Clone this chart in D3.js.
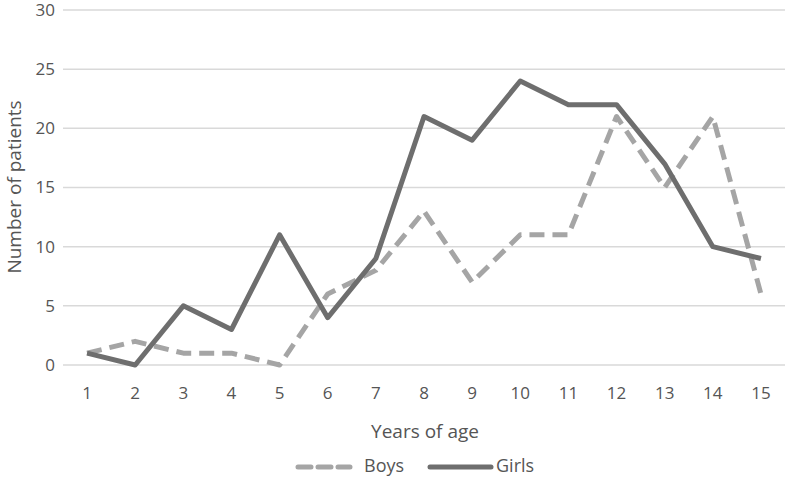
<!DOCTYPE html>
<html><head><meta charset="utf-8">
<script src="https://cdn.jsdelivr.net/npm/d3@7"></script>
<style>body{margin:0;background:#fff}svg{display:block}text{font-family:"Open Sans","Noto Sans",sans-serif;fill:#555}</style>
</head><body><svg id="c" width="787" height="480"></svg>
<script>
const ages = ["1","2","3","4","5","6","7","8","9","10","11","12","13","14","15"];
const boys = [1,2,1,1,0,6,8,13,7,11,11,21,15,21,6];
const girls = [1,0,5,3,11,4,9,21,19,24,22,22,17,10,9];
const yTicks = [0,5,10,15,20,25,30];
const seriesNames = ["Boys","Girls"];

const svg = d3.select("#c");
const m = {l:63, r:785, t:10, b:365};
const x = d3.scaleBand().domain(ages).range([m.l, m.r]);
const y = d3.scaleLinear().domain([0,30]).range([m.b, m.t]);
const fs = "17px";

svg.append("g").selectAll("line").data(yTicks).join("line")
  .attr("x1", m.l).attr("x2", m.r).attr("y1", d=>y(d)).attr("y2", d=>y(d))
  .attr("stroke", "#d9d9d9").attr("stroke-width", 1.5);

svg.append("g").selectAll("text").data(yTicks).join("text")
  .attr("x", 55).attr("y", d=>y(d)).attr("dy","0.35em").attr("text-anchor","end")
  .style("font-size", fs).text(d=>d);

svg.append("g").selectAll("text").data(ages).join("text")
  .attr("x", d=>x(d)+x.bandwidth()/2).attr("y", 393).attr("dy","0.35em").attr("text-anchor","middle")
  .style("font-size", fs).text(d=>d);

svg.append("text").attr("transform","translate(14,187) rotate(-90)").attr("text-anchor","middle")
  .attr("dy","0.35em").style("font-size","19px").text("Number of patients");
svg.append("text").attr("x", 425).attr("y", 431).attr("text-anchor","middle").attr("dy","0.35em")
  .style("font-size","19px").text("Years of age");

const line = d3.line().x((d,i)=>x(ages[i])+x.bandwidth()/2).y(d=>y(d));
svg.append("path").datum(boys).attr("d", line).attr("fill","none")
  .attr("stroke","#a5a5a5").attr("stroke-width",5).attr("stroke-dasharray","15,8").attr("stroke-linejoin","round");
svg.append("path").datum(girls).attr("d", line).attr("fill","none")
  .attr("stroke","#6e6e6e").attr("stroke-width",5).attr("stroke-linejoin","round");

// legend
const lg = svg.append("g");
lg.append("line").attr("x1",298).attr("x2",350).attr("y1",467).attr("y2",467)
  .attr("stroke","#a5a5a5").attr("stroke-width",5).attr("stroke-dasharray","13,7").attr("stroke-linecap","round");
lg.append("text").attr("x",364).attr("y",466).attr("dy","0.35em").style("font-size","18px").text(seriesNames[0]);
lg.append("line").attr("x1",430).attr("x2",491).attr("y1",467).attr("y2",467)
  .attr("stroke","#6e6e6e").attr("stroke-width",5).attr("stroke-linecap","round");
lg.append("text").attr("x",496).attr("y",466).attr("dy","0.35em").style("font-size","18px").text(seriesNames[1]);
</script></body></html>
